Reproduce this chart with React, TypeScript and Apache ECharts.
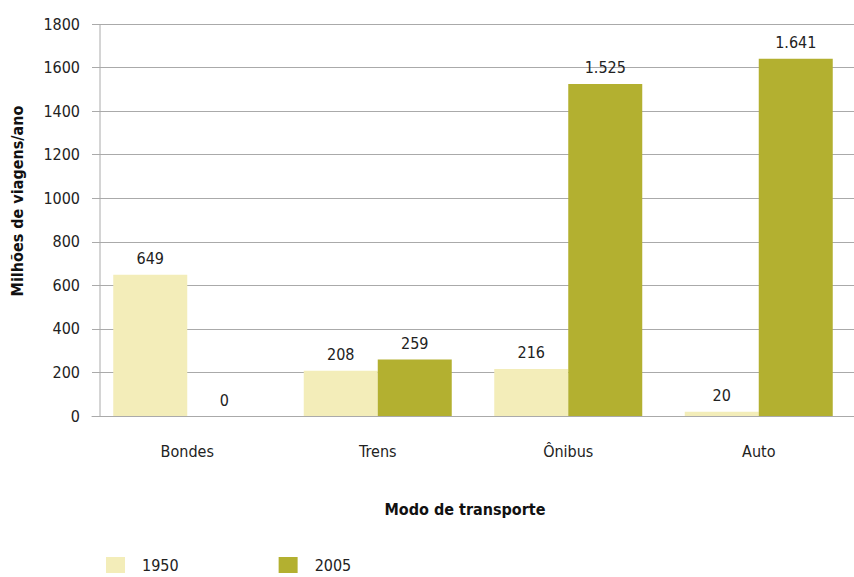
import React, { useEffect, useRef } from "react";
import * as echarts from "echarts";

const categories = ["Bondes", "Trens", "Ônibus", "Auto"];
const values1950 = [649, 208, 216, 20];
const values2005 = [0, 259, 1525, 1641];
const seriesNames = ["1950", "2005"];
const yTicks = { min: 0, max: 1800, interval: 200 };

const FONT = "'DejaVu Sans Condensed', 'Liberation Sans Narrow', 'Roboto', sans-serif";

function fmt(v: number): string {
  const s = String(Math.round(v));
  return s.replace(/\B(?=(\d{3})+(?!\d))/g, ".");
}

export default function App() {
  const ref = useRef<HTMLDivElement>(null);
  useEffect(() => {
    if (!ref.current) return;
    const chart = echarts.init(ref.current, null, { renderer: "svg" });
    const label = {
      show: true,
      position: "top" as const,
      distance: 8,
      color: "#222",
      fontFamily: FONT,
      fontSize: 16,
      formatter: (p: any) => fmt(p.value),
    };
    chart.setOption({
      animation: false,
      backgroundColor: "#fff",
      textStyle: { fontFamily: FONT },
      grid: { left: 92, right: 0, top: 24, bottom: 161, containLabel: false },
      legend: {
        left: 101,
        top: 552,
        itemWidth: 19,
        itemHeight: 16,
        itemGap: 100,
        icon: "rect",
        formatter: "{a|{name}}",
        textStyle: {
          fontFamily: FONT,
          fontSize: 16,
          color: "#222",
          rich: { a: { fontFamily: FONT, fontSize: 16, color: "#222", padding: [0, 0, 0, 12] } },
        },
        data: seriesNames,
      },
      xAxis: {
        type: "category",
        data: categories,
        axisLine: { show: true, lineStyle: { color: "#aaa" } },
        axisTick: { show: false },
        axisLabel: { margin: 27, fontFamily: FONT, fontSize: 16, color: "#222" },
      },
      yAxis: {
        type: "value",
        min: yTicks.min,
        max: yTicks.max,
        interval: yTicks.interval,
        axisLine: { show: false },
        axisTick: { show: false },
        axisLabel: {
          margin: 12,
          fontFamily: FONT,
          fontSize: 16,
          color: "#222",
          formatter: (v: number) => String(v),
        },
        splitLine: { lineStyle: { color: "#aaa", width: 1 } },
      },
      graphic: [
        {
          type: "line",
          shape: { x1: 100, y1: 24, x2: 100, y2: 416 },
          style: { stroke: "#aaa", lineWidth: 1 },
          z: 10,
        },
        {
          type: "text",
          x: 17,
          y: 201,
          rotation: Math.PI / 2,
          style: {
            text: "Milhões de viagens/ano",
            fontFamily: FONT,
            fontSize: 16,
            fontWeight: "bold",
            fill: "#111",
            textAlign: "center",
            textVerticalAlign: "middle",
          },
        },
        {
          type: "text",
          x: 465,
          y: 509,
          style: {
            text: "Modo de transporte",
            fontFamily: FONT,
            fontSize: 16,
            fontWeight: "bold",
            fill: "#111",
            textAlign: "center",
            textVerticalAlign: "middle",
          },
        },
      ],
      series: [
        {
          name: seriesNames[0],
          type: "bar",
          data: values1950,
          barWidth: 74,
          barGap: "0%",
          itemStyle: { color: "#F3EDB9" },
          label,
        },
        {
          name: seriesNames[1],
          type: "bar",
          data: values2005,
          barWidth: 74,
          barGap: "0%",
          itemStyle: { color: "#B3B030" },
          label,
        },
      ],
    });
    return () => chart.dispose();
  }, []);
  return (
    <div
      ref={ref}
      style={{ position: "absolute", left: 0, top: 0, width: 854, height: 577 }}
    />
  );
}
